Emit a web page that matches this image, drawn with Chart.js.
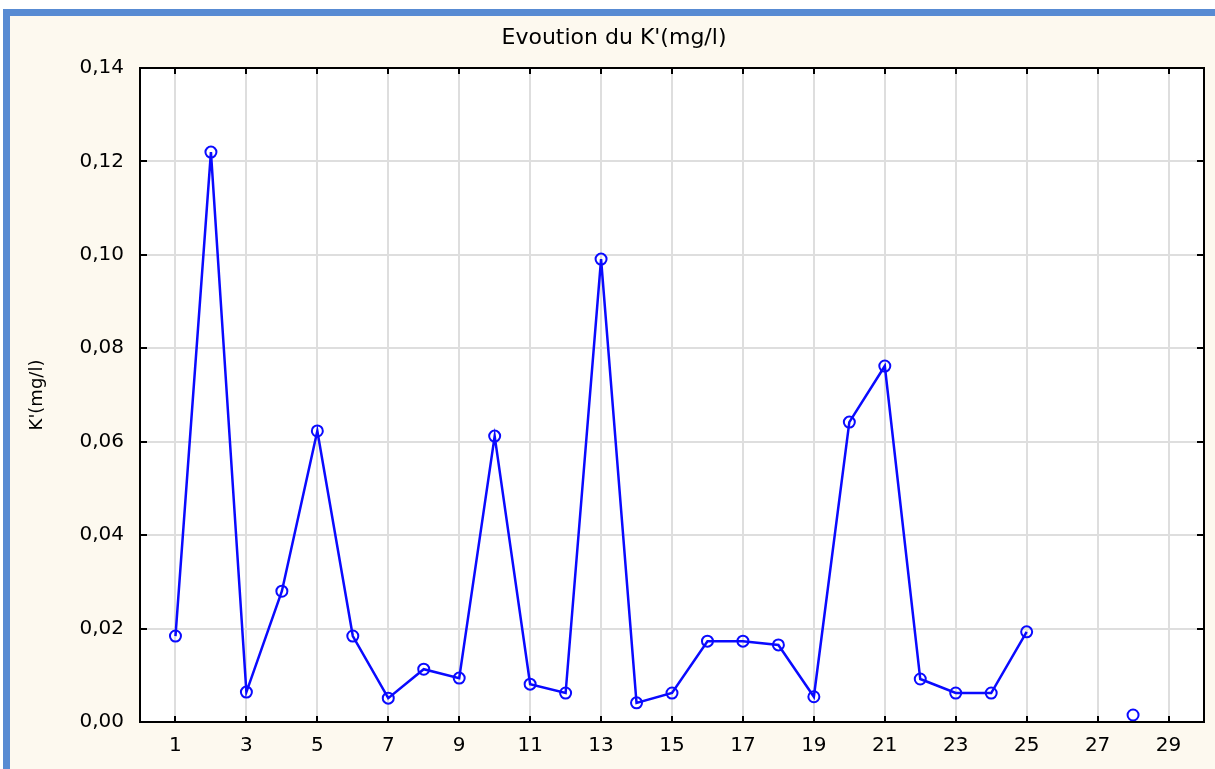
<!DOCTYPE html>
<html>
<head>
<meta charset="utf-8">
<script src="https://cdn.jsdelivr.net/npm/chart.js@4"></script>
<style>
  html, body { margin: 0; padding: 0; background: #ffffff; overflow: hidden; }
  #frame {
    position: absolute; left: 3px; top: 9px; width: 1212px; height: 760px;
    border-top: 7px solid #588bd3; border-left: 7px solid #588bd3;
    background: #fdf9ef;
  }
  #box { position: absolute; left: 0; top: 0; width: 1205px; height: 753px; }
</style>
</head>
<body>
<div id="frame"><div id="box"><canvas id="chart"></canvas></div></div>
<script>
// sample number and K' concentration (mg/l); 26 and 27 have no value
const samples = [1, 2, 3, 4, 5, 6, 7, 8, 9, 10, 11, 12, 13, 14, 15, 16, 17, 18, 19, 20, 21, 22, 23, 24, 25, 26, 27, 28];
const kValues = [0.0184, 0.122, 0.0064, 0.028, 0.0623, 0.0184, 0.0051, 0.0113, 0.0094, 0.0612,
                 0.0081, 0.0062, 0.0991, 0.0041, 0.0062, 0.0173, 0.0173, 0.0165, 0.0054, 0.0642,
                 0.0762, 0.0092, 0.0062, 0.0062, 0.0193, null, null, 0.0015];
const xTicks = [1, 3, 5, 7, 9, 11, 13, 15, 17, 19, 21, 23, 25, 27, 29];
const yTicks = [0, 0.02, 0.04, 0.06, 0.08, 0.10, 0.12, 0.14];

const font = { family: 'DejaVu Sans', size: 20 };

// white plot area, black frame and inward tick marks on all four sides
const framePlugin = {
    id: 'frame',
    beforeDraw(chart) {
        const a = chart.chartArea, ctx = chart.ctx;
        ctx.save();
        ctx.fillStyle = '#ffffff';
        ctx.fillRect(a.left, a.top, a.right - a.left, a.bottom - a.top);
        ctx.restore();
    },
    afterDraw(chart) {
        const a = chart.chartArea, ctx = chart.ctx;
        const xs = chart.scales.x, ys = chart.scales.y;
        ctx.save();
        ctx.strokeStyle = '#000';
        ctx.lineWidth = 2;
        ctx.strokeRect(a.left, a.top, a.right - a.left, a.bottom - a.top);
        ctx.beginPath();
        xTicks.forEach(v => {
            const px = Math.round(xs.getPixelForValue(v));
            ctx.moveTo(px, a.bottom); ctx.lineTo(px, a.bottom - 6);
            ctx.moveTo(px, a.top); ctx.lineTo(px, a.top + 6);
        });
        yTicks.forEach(v => {
            const py = Math.round(ys.getPixelForValue(v));
            ctx.moveTo(a.left, py); ctx.lineTo(a.left + 7, py);
            ctx.moveTo(a.right, py); ctx.lineTo(a.right - 7, py);
        });
        ctx.stroke();
        ctx.restore();
    }
};

new Chart(document.getElementById('chart'), {
    type: 'line',
    data: {
        datasets: [{
            label: "K'(mg/l)",
            data: samples.map((s, i) => ({ x: s, y: kValues[i] })),
            borderColor: '#0a0aff',
            borderWidth: 2.5,
            pointRadius: 5.5,
            pointBorderWidth: 2,
            pointBorderColor: '#0a0aff',
            pointBackgroundColor: 'rgba(255,255,255,0)',
            tension: 0,
            spanGaps: false
        }]
    },
    options: {
        responsive: true,
        maintainAspectRatio: false,
        animation: false,
        layout: { padding: { left: 14, right: 11 } },
        plugins: {
            legend: { display: false },
            tooltip: { enabled: false },
            title: {
                display: true,
                text: "Evoution du K'(mg/l)",
                color: '#000',
                font: { family: 'DejaVu Sans', size: 22, weight: 'normal' },
                padding: { top: 9, bottom: 16.6 }
            }
        },
        scales: {
            x: {
                type: 'linear',
                min: 0, max: 30,
                afterBuildTicks: s => { s.ticks = xTicks.map(v => ({ value: v })); },
                afterFit: s => { s.height = 47; },
                grid: { color: '#dedede', lineWidth: 2, drawTicks: false },
                border: { display: false },
                ticks: { color: '#000', font: font, padding: 12, maxRotation: 0, autoSkip: false }
            },
            y: {
                min: 0, max: 0.14,
                afterBuildTicks: s => { s.ticks = yTicks.map(v => ({ value: v })); },
                afterFit: s => { s.width = 116; },
                grid: { color: '#dedede', lineWidth: 2, drawTicks: false },
                border: { display: false },
                title: {
                    display: true, text: "K'(mg/l)", color: '#000',
                    font: { family: 'DejaVu Sans', size: 18 },
                    padding: { top: 3, bottom: 0 }
                },
                ticks: {
                    color: '#000', font: font, padding: 16,
                    callback: v => v.toFixed(2).replace('.', ',')
                }
            }
        }
    },
    plugins: [framePlugin]
});
</script>
</body>
</html>
